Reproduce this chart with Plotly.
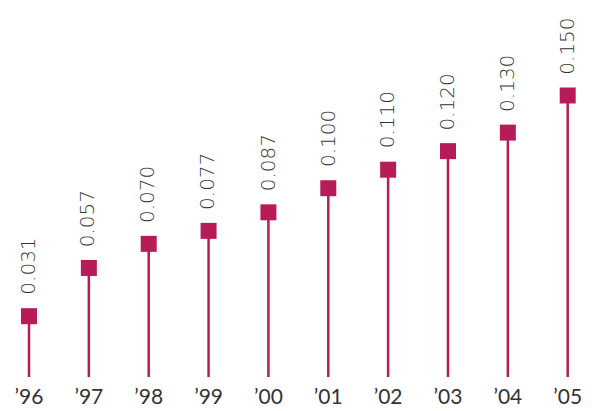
import plotly.graph_objects as go

years = ["’96", "’97", "’98", "’99", "’00", "’01", "’02", "’03", "’04", "’05"]
values = [0.031, 0.057, 0.070, 0.077, 0.087, 0.100, 0.110, 0.120, 0.130, 0.150]
value_labels = ["0.031", "0.057", "0.070", "0.077", "0.087", "0.100", "0.110", "0.120", "0.130", "0.150"]

COLOR = "#B81C58"
TEXT = "#333333"
Y_MIN, Y_MAX = -0.0018, 0.2015

stem_x, stem_y = [], []
for i, v in enumerate(values):
    stem_x += [i, i, None]
    stem_y += [Y_MIN, v, None]

fig = go.Figure()
fig.add_trace(go.Scatter(x=stem_x, y=stem_y, mode="lines",
                         line=dict(color=COLOR, width=2.5), hoverinfo="skip", showlegend=False))
fig.add_trace(go.Scatter(x=list(range(len(values))), y=values, mode="markers",
                         marker=dict(symbol="square", size=16, color=COLOR, line=dict(width=0)),
                         showlegend=False))

for i, (v, lab) in enumerate(zip(values, value_labels)):
    fig.add_annotation(x=i, y=v, text=lab, textangle=-90, showarrow=False,
                       xanchor="center", yanchor="bottom", yshift=19, xshift=-1,
                       font=dict(family="DejaVu Sans", size=20, color=TEXT, weight=300))

fig.update_layout(
    width=592, height=411,
    margin=dict(l=0, r=0, t=0, b=34),
    paper_bgcolor="white", plot_bgcolor="white",
    xaxis=dict(range=[-0.4845, 9.406], tickmode="array", tickvals=list(range(len(years))),
               ticktext=years, showgrid=False, zeroline=False, showline=False,
               ticks="", ticklabelstandoff=5,
               tickfont=dict(family="Lato", size=21, color=TEXT)),
    yaxis=dict(range=[Y_MIN, Y_MAX], visible=False),
)

fig.write_html("out.html")
